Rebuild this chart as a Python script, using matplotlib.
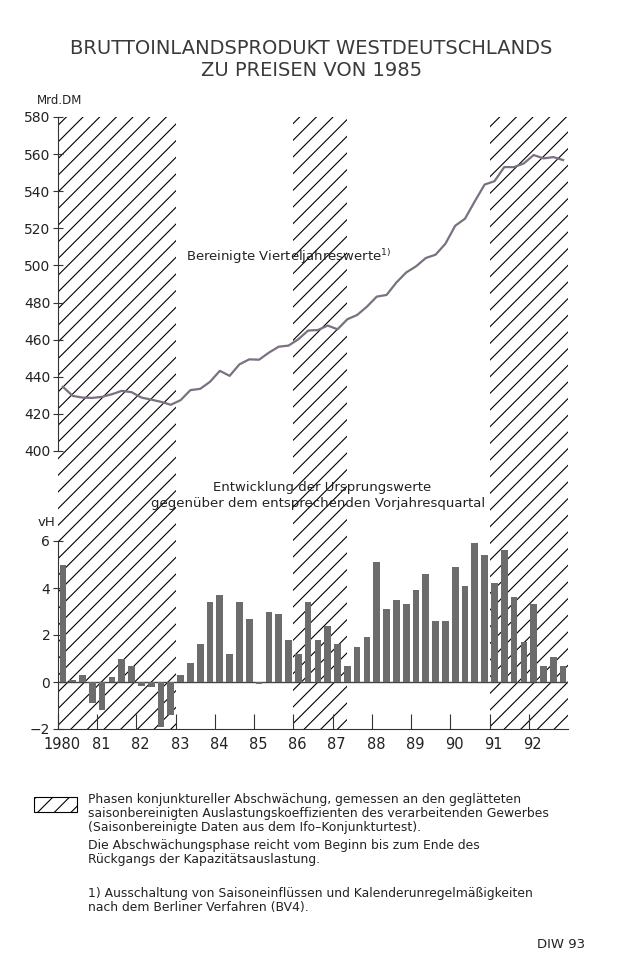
import numpy as np
import matplotlib.pyplot as plt
from matplotlib.patches import Rectangle
from matplotlib.transforms import ScaledTranslation

plt.rcParams['font.family'] = ['DejaVu Sans']
plt.rcParams['mathtext.default'] = 'regular'
plt.rcParams['hatch.linewidth'] = 0.8

# Quartale 1980 Q1 .. 1992 Q4
years = list(range(1980, 1993))
year_labels = ["1980", "81", "82", "83", "84", "85", "86", "87", "88", "89", "90", "91", "92"]

# Bereinigte Vierteljahreswerte, Mrd. DM
bip_bereinigt = [434.6, 429.7, 428.8, 428.6, 429.2, 430.6, 432.4, 431.7,
                 428.8, 427.7, 426.5, 424.9, 427.4, 432.8, 433.5, 437.3,
                 443.2, 440.5, 446.7, 449.4, 449.2, 453.0, 456.2, 456.8,
                 460.2, 464.9, 465.2, 467.6, 465.6, 471.0, 473.3, 477.8,
                 483.2, 484.1, 490.8, 496.2, 499.5, 504.0, 505.8, 511.7,
                 521.4, 525.2, 534.6, 543.6, 545.4, 553.0, 553.0, 555.0,
                 559.5, 557.7, 558.4, 556.8]

# Veraenderung gegenueber Vorjahresquartal, vH
vorjahr_vh = [5.0, 0.1, 0.3, -0.9, -1.2, 0.2, 1.0, 0.7,
              -0.15, -0.2, -1.9, -1.4, 0.3, 0.8, 1.6, 3.4,
              3.7, 1.2, 3.4, 2.7, -0.07, 3.0, 2.9, 1.8,
              1.2, 3.4, 1.8, 2.4, 1.6, 0.7, 1.5, 1.9,
              5.1, 3.1, 3.5, 3.3, 3.9, 4.6, 2.6, 2.6,
              4.9, 4.1, 5.9, 5.4, 4.2, 5.6, 3.6, 1.7,
              3.3, 0.7, 1.05, 0.7]

# Phasen konjunktureller Abschwaechung (Beginn, Ende)
abschwaechung = [(1980.0, 1983.0), (1986.0, 1987.375), (1991.0, 1993.0)]

quarters = 1980 + 0.125 + 0.25 * np.arange(len(bip_bereinigt))

W, H = 629, 965
fig = plt.figure(figsize=(W / 100, H / 100), dpi=100)

def fx(px):
    return px / W

def fy(py):
    return 1 - py / H

x0, x1 = 58, 568
y_top, y_mid1, y_mid2, y_bot = 117, 451, 541, 729

# Hintergrund mit Schraffur ueber beide Teile
bg = fig.add_axes([fx(x0), fy(y_bot), fx(x1) - fx(x0), fy(y_top) - fy(y_bot)])
bg.set_xlim(1980, 1993)
bg.set_ylim(0, 1)
for a, b in abschwaechung:
    bg.axvspan(a, b, facecolor='none', edgecolor='black', lw=0, hatch='//')
bg.axis('off')

line_col = '#7a7080'
bar_col = '#6c6c6c'
txt_col = '#222222'

# oberer Teil: Niveau
top = fig.add_axes([fx(x0), fy(y_mid1), fx(x1) - fx(x0), fy(y_top) - fy(y_mid1)])
top.patch.set_alpha(0)
top.plot(quarters, bip_bereinigt, color=line_col, lw=1.6)
top.set_xlim(1980, 1993)
top.set_ylim(400, 580)
top.set_yticks(range(400, 581, 20))
top.set_xticks([])
for s in ['top', 'right', 'bottom']:
    top.spines[s].set_visible(False)
top.spines['left'].set_color('#333333')
top.tick_params(axis='y', direction='inout', length=7, labelsize=10, colors='#333333', labelcolor=txt_col, pad=2)
top.text(1983.25, 505, r'Bereinigte Vierteljahreswerte$^{1)}$', fontsize=9.5, color=txt_col, va='center')

# unterer Teil: Veraenderungsraten
bot = fig.add_axes([fx(x0), fy(y_bot), fx(x1) - fx(x0), fy(y_mid2) - fy(y_bot)])
bot.patch.set_alpha(0)
bot.bar(quarters, vorjahr_vh, width=0.17, color=bar_col, zorder=3)
bot.axhline(0, color='#444444', lw=1.0, zorder=2)
bot.set_xlim(1980, 1993)
bot.set_ylim(-2, 6)
bot.set_yticks([-2, 0, 2, 4, 6])
bot.set_yticklabels(['\u22122', '0', '2', '4', '6'])
bot.set_xticks(years)
bot.set_xticklabels(year_labels)
for s in ['top', 'right']:
    bot.spines[s].set_visible(False)
bot.spines['left'].set_color('#333333')
bot.spines['bottom'].set_color('#333333')
bot.tick_params(axis='y', direction='inout', length=7, labelsize=10, colors='#333333', labelcolor=txt_col, pad=2)
bot.tick_params(axis='x', direction='in', length=11, labelsize=10.5, colors='#333333', labelcolor=txt_col, pad=6)
shift = ScaledTranslation(4 / 100, 0, fig.dpi_scale_trans)
for lab in bot.get_xticklabels():
    lab.set_transform(lab.get_transform() + shift)

# Titel und Beschriftungen
fig.text(0.495, fy(48), 'BRUTTOINLANDSPRODUKT WESTDEUTSCHLANDS', ha='center', va='center', fontsize=14, color='#3a3a3a')
fig.text(0.495, fy(71), 'ZU PREISEN VON 1985', ha='center', va='center', fontsize=14, color='#3a3a3a')
fig.text(fx(37), fy(101), 'Mrd.DM', ha='left', va='center', fontsize=8.5, color=txt_col)
fig.text(fx(38), fy(522), 'vH', ha='left', va='center', fontsize=9.5, color=txt_col)
fig.text(fx(322), fy(487), 'Entwicklung der Ursprungswerte', ha='center', va='center', fontsize=9.5, color=txt_col)
fig.text(fx(318), fy(503), 'gegenüber dem entsprechenden Vorjahresquartal', ha='center', va='center', fontsize=9.5, color=txt_col)

# Legende
fig.add_artist(Rectangle((fx(34), fy(812)), fx(77) - fx(34), fy(797) - fy(812), transform=fig.transFigure,
                         fill=False, edgecolor='black', lw=0.8, hatch='//'))
legend_lines = [
    (800, 'Phasen konjunktureller Abschwächung, gemessen an den geglätteten'),
    (814, 'saisonbereinigten Auslastungskoeffizienten des verarbeitenden Gewerbes'),
    (828, '(Saisonbereinigte Daten aus dem Ifo\u2013Konjunkturtest).'),
    (846, 'Die Abschwächungsphase reicht vom Beginn bis zum Ende des'),
    (860, 'Rückgangs der Kapazitätsauslastung.'),
    (893, '1) Ausschaltung von Saisoneinflüssen und Kalenderunregelmäßigkeiten'),
    (908, 'nach dem Berliner Verfahren (BV4).'),
]
for py, t in legend_lines:
    fig.text(fx(88), fy(py), t, ha='left', va='center', fontsize=8.9, color=txt_col)
fig.text(fx(585), fy(945), 'DIW 93', ha='right', va='center', fontsize=9.5, color=txt_col)

fig.savefig('out.png', dpi=100)
